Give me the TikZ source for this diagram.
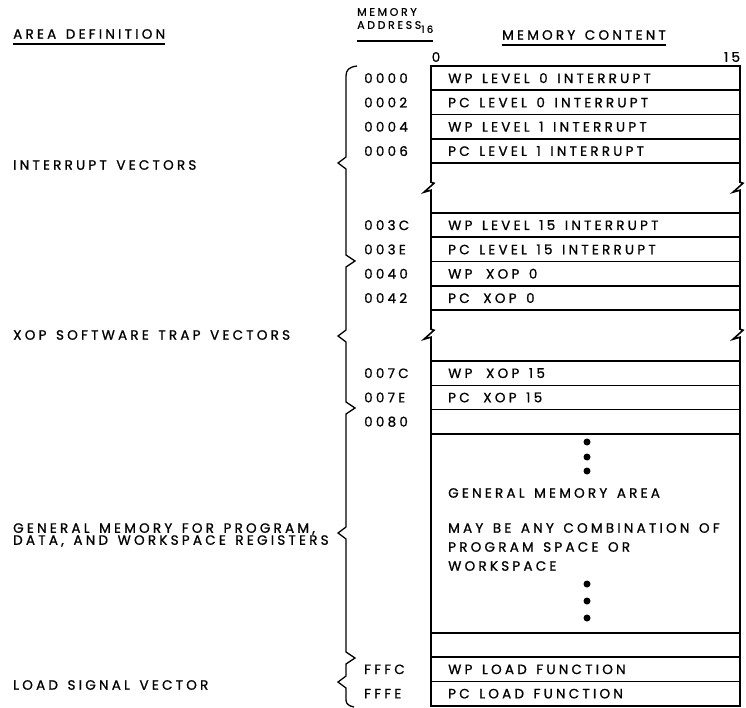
\documentclass[tikz,border=0pt]{standalone}
\usepackage{fontspec}
\setmainfont{Poppins}[LetterSpace=24, WordSpace=1.4, FakeBold=1]
\usetikzlibrary{positioning}

\tikzset{
  cell/.style={draw, line width=1.6pt, outer sep=0pt, minimum width=309pt, minimum height=24.3pt, inner sep=0pt},
  celltext/.style={anchor=west, inner sep=0pt},
  addr/.style={anchor=west, inner sep=0pt},
  area/.style={anchor=west, inner sep=0pt, align=left},
  head/.style={anchor=west, inner sep=0pt},
  dot/.style={circle, fill, inner sep=0pt, minimum size=7pt},
}

\begin{document}
\begin{tikzpicture}[x=1pt, y=-1pt, font=\fontsize{13.5}{15}\selectfont]
\useasboundingbox (0,0) rectangle (746,708);
% Headings
\node[head] (hdarea) at (13,34) {AREA DEFINITION};
\draw[line width=1.3pt] ([yshift=-5pt]hdarea.south west) -- ([yshift=-5pt]hdarea.south east);
\node[head, font=\fontsize{11}{12}\selectfont] (hdmem) at (357,12) {MEMORY};
\node[head, font=\fontsize{11}{12}\selectfont] (hdaddr) at (357,27) {ADDRESS\raisebox{-4pt}{\fontsize{10}{10}\selectfont 16}};
\draw[line width=1.3pt] (357,41) -- (hdaddr.east |- 357,41);
\node[head, anchor=center] (hdcont) at (584,35) {MEMORY CONTENT};
\draw[line width=1.3pt] ([yshift=-5pt]hdcont.south west) -- ([yshift=-5pt]hdcont.south east);
\node[head, anchor=center] (bit0) at (436,57) {0};
\node[head, anchor=center] (bit15) at (732,57) {15};
% Interrupt vectors
\node[cell, anchor=north west] (r0) at (431,66) {};
\node[cell, below=0pt of r0] (r1) {};
\node[cell, below=0pt of r1] (r2) {};
\node[cell, below=0pt of r2] (r3) {};
\node[cell, anchor=north west] (r4) at (431,213) {};
\node[cell, below=0pt of r4] (r5) {};
% XOP vectors
\node[cell, below=0pt of r5] (r6) {};
\node[cell, below=0pt of r6] (r7) {};
\node[cell, anchor=north west] (r8) at (431,361) {};
\node[cell, below=0pt of r8] (r9) {};
\node[cell, below=0pt of r9] (r10) {};
% General memory and load vector
\node[cell, below=0pt of r10, minimum height=199pt] (gen) {};
\node[cell, below=0pt of gen] (r11) {};
\node[cell, below=0pt of r11] (r12) {};
\node[cell, below=0pt of r12] (r13) {};
% Contents
\node[right=17pt of r0.west, celltext] (t0) {WP LEVEL 0 INTERRUPT};
\node[right=17pt of r1.west, celltext] (t1) {PC LEVEL 0 INTERRUPT};
\node[right=17pt of r2.west, celltext] (t2) {WP LEVEL 1 INTERRUPT};
\node[right=17pt of r3.west, celltext] (t3) {PC LEVEL 1 INTERRUPT};
\node[right=17pt of r4.west, celltext] (t4) {WP LEVEL 15 INTERRUPT};
\node[right=17pt of r5.west, celltext] (t5) {PC LEVEL 15 INTERRUPT};
\node[right=17pt of r6.west, celltext] (t6) {WP\hspace{4pt} XOP 0};
\node[right=17pt of r7.west, celltext] (t7) {PC\hspace{4pt} XOP 0};
\node[right=17pt of r8.west, celltext] (t8) {WP\hspace{4pt} XOP 15};
\node[right=17pt of r9.west, celltext] (t9) {PC\hspace{4pt} XOP 15};
\node[right=17pt of r12.west, celltext] (t12) {WP LOAD FUNCTION};
\node[right=17pt of r13.west, celltext] (t13) {PC LOAD FUNCTION};
% Breaks
\draw[line width=1.6pt] (r3.south west) -- ++(0,19) -- ++(3,1) -- ++(-10,9) -- ++(7,-2) -- (r4.north west);
\draw[line width=1.6pt] (r3.south east) -- ++(0,19) -- ++(3,1) -- ++(-10,9) -- ++(7,-2) -- (r4.north east);
\draw[line width=1.6pt] (r7.south west) -- ++(0,19) -- ++(3,1) -- ++(-10,9) -- ++(7,-2) -- (r8.north west);
\draw[line width=1.6pt] (r7.south east) -- ++(0,19) -- ++(3,1) -- ++(-10,9) -- ++(7,-2) -- (r8.north east);
% Addresses
\node[left=67pt of r0.west, addr] (a0000) {0000};
\node[left=67pt of r1.west, addr] (a0002) {0002};
\node[left=67pt of r2.west, addr] (a0004) {0004};
\node[left=67pt of r3.west, addr] (a0006) {0006};
\node[left=67pt of r4.west, addr] (a003c) {003C};
\node[left=67pt of r5.west, addr] (a003e) {003E};
\node[left=67pt of r6.west, addr] (a0040) {0040};
\node[left=67pt of r7.west, addr] (a0042) {0042};
\node[left=67pt of r8.west, addr] (a007c) {007C};
\node[left=67pt of r9.west, addr] (a007e) {007E};
\node[left=67pt of r10.west, addr] (a0080) {0080};
\node[left=67pt of r12.west, addr] (afffc) {FFFC};
\node[left=67pt of r13.west, addr] (afffe) {FFFE};
% General memory text
\node[dot] (d1) at (587,442) {};
\node[dot] (d2) at (587,457) {};
\node[dot] (d3) at (587,471) {};
\node[area] (gentxt) at (448,493) {GENERAL MEMORY AREA};
\node[area] (gentxt2) at (448,528) {MAY BE ANY COMBINATION OF};
\node[area] (gentxt3) at (448,547) {PROGRAM SPACE OR};
\node[area] (gentxt4) at (448,566) {WORKSPACE};
\node[dot] (d4) at (587,584) {};
\node[dot] (d5) at (587,601) {};
\node[dot] (d6) at (587,618) {};
% Braces
\draw[line width=1.3pt] (357,66) .. controls (349,67) and (346,70) .. (346,76)
  -- (346,157) -- (338,163) -- (346,169) -- (346,255) -- (355,261) -- (346,267)
  -- (346,330) -- (338,336) -- (346,342) -- (346,402) -- (355,408) -- (346,414)
  -- (346,527) -- (338,533) -- (346,539) -- (346,652) -- (355,658) -- (346,664)
  -- (346,676) -- (338,682) -- (346,688) -- (346,700) .. controls (346,704) and (349,706) .. (354,707);
% Area labels
\node[area] (intv) at (13,165) {INTERRUPT VECTORS};
\node[area] (xopv) at (13,335) {XOP SOFTWARE TRAP VECTORS};
\node[area] (genv) at (13,535) {GENERAL MEMORY FOR PROGRAM,\\[-3pt]DATA, AND WORKSPACE REGISTERS};
\node[area] (loadv) at (13,685) {LOAD SIGNAL VECTOR};
\end{tikzpicture}
\end{document}
